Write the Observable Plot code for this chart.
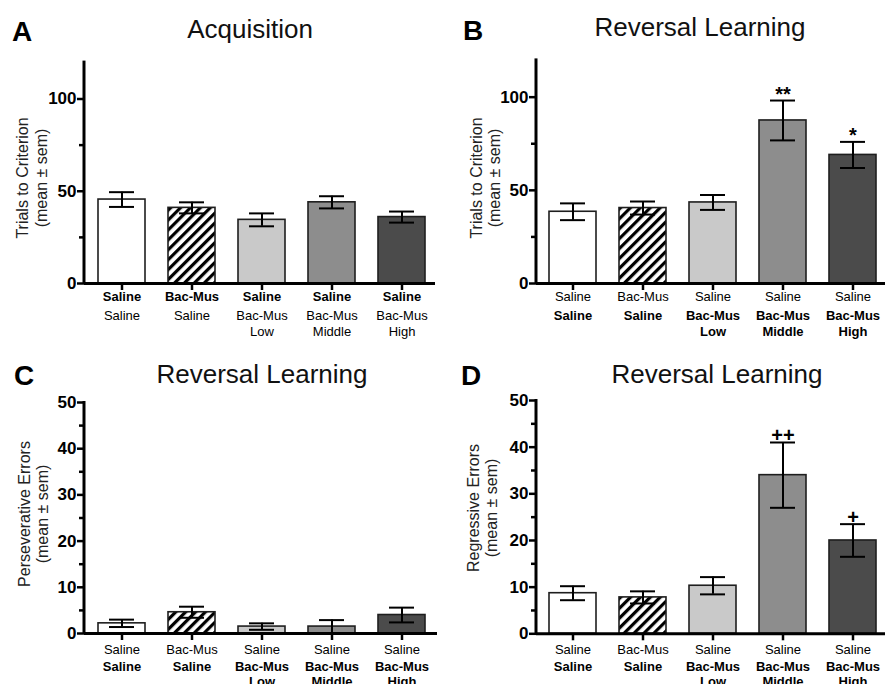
<!DOCTYPE html>
<html>
<head>
<meta charset="utf-8">
<script src="https://cdn.jsdelivr.net/npm/d3@7"></script>
<script src="https://cdn.jsdelivr.net/npm/@observablehq/plot@0.6"></script>
<style>
  body { margin: 0; background: #fff; }
  #fig { position: relative; width: 885px; height: 684px; overflow: hidden; background: #fff; }
  .panel { position: absolute; }
</style>
</head>
<body>
<div id="fig"></div>
<script>
// ---------- data ----------
const groups = ["Saline|Saline", "Bac-Mus|Saline", "Saline|Bac-Mus Low", "Saline|Bac-Mus Middle", "Saline|Bac-Mus High"];
const pretreatment = ["Saline", "Bac-Mus", "Saline", "Saline", "Saline"];
const treatment = ["Saline", "Saline", "Bac-Mus\nLow", "Bac-Mus\nMiddle", "Bac-Mus\nHigh"];

const acqTrialsMean = [45.5, 41.0, 34.5, 44.0, 36.0];
const acqTrialsSem  = [4.0, 3.0, 3.5, 3.3, 3.0];

const revTrialsMean = [38.5, 40.5, 43.5, 87.5, 69.0];
const revTrialsSem  = [4.5, 3.5, 4.0, 10.7, 7.0];
const revTrialsSig  = ["", "", "", "**", "*"];

const persErrMean = [2.2, 4.6, 1.5, 1.5, 4.0];
const persErrSem  = [0.8, 1.2, 0.7, 1.4, 1.6];

const regErrMean = [8.7, 7.8, 10.3, 34.0, 20.0];
const regErrSem  = [1.5, 1.3, 1.85, 7.0, 3.5];
const regErrSig  = ["", "", "", "++", "+"];

const trialsTicks = [0, 50, 100];
const trialsMinorTicks = [25, 75];
const errorTicks = [0, 10, 20, 30, 40, 50];
const errorMinorTicks = [5, 15, 25, 35, 45];

const panelLetters = ["A", "B", "C", "D"];
const panelTitles = ["Acquisition", "Reversal Learning", "Reversal Learning", "Reversal Learning"];
const yLabelLine1 = ["Trials to Criterion", "Trials to Criterion", "Perseverative Errors", "Regressive Errors"];
const yLabelLine2 = ["(mean \u00b1 sem)", "(mean \u00b1 sem)", "(mean \u00b1 sem)", "(mean \u00b1 sem)"];

// ---------- styling ----------
const FONT = '"Liberation Sans", Arial, Helvetica, sans-serif';
const barColors = ["#ffffff", "HATCH", "#c9c9c9", "#8d8d8d", "#4b4b4b"];

function makePanel(cfg) {
  const data = groups.map((g, i) => ({
    group: g,
    mean: cfg.mean[i],
    lo: cfg.mean[i] - cfg.sem[i],
    hi: cfg.mean[i] + cfg.sem[i],
    sig: cfg.sig ? cfg.sig[i] : "",
    line2: treatment[i]
  }));
  const hatchId = "hatch" + cfg.key;
  const defs = () => {
    const d = d3.create("svg:defs");
    const p = d.append("pattern")
      .attr("id", hatchId)
      .attr("patternUnits", "userSpaceOnUse")
      .attr("width", 7).attr("height", 7)
      .attr("patternTransform", "rotate(45)");
    p.append("rect").attr("width", 7).attr("height", 7).attr("fill", "#fff");
    p.append("line").attr("x1", 1.6).attr("y1", -1).attr("x2", 1.6).attr("y2", 8)
      .attr("stroke", "#000").attr("stroke-width", 3.2);
    return d.node();
  };
  const yAxisLine = (index, scales, values, dim) => {
    const g = d3.create("svg:g");
    g.append("line")
      .attr("x1", dim.marginLeft).attr("x2", dim.marginLeft)
      .attr("y1", dim.marginTop - 1).attr("y2", dim.height - dim.marginBottom)
      .attr("stroke", "#000").attr("stroke-width", 3);
    return g.node();
  };
  const chart = Plot.plot({
    width: cfg.width,
    height: cfg.height,
    marginLeft: cfg.marginLeft,
    marginRight: cfg.marginRight,
    marginTop: cfg.marginTop,
    marginBottom: cfg.marginBottom,
    style: {fontFamily: FONT, fontSize: "13px", color: "#000", background: "transparent", overflow: "visible"},
    x: {type: "band", domain: groups, range: cfg.xRange, paddingInner: 0.33, paddingOuter: 0, axis: null},
    y: {domain: cfg.yDomain, axis: null},
    color: {domain: groups, range: barColors.map(c => c === "HATCH" ? `url(#${hatchId})` : c)},
    marks: [
      defs,
      Plot.barY(data, {x: "group", y: "mean", fill: "group", stroke: "#1e1e1e", strokeWidth: 1.6}),
      Plot.ruleX(data, {x: "group", y1: "lo", y2: "hi", stroke: "#000", strokeWidth: 2}),
      Plot.tickY(data, {x: "group", y: "hi", stroke: "#000", strokeWidth: 2, insetLeft: 11, insetRight: 11}),
      Plot.tickY(data, {x: "group", y: "lo", stroke: "#000", strokeWidth: 2, insetLeft: 11, insetRight: 11}),
      Plot.text(data.filter(d => d.sig), {x: "group", y: "hi", text: "sig", lineAnchor: "bottom", dy: 0, fontSize: 20, fontWeight: "bold", fill: "#000"}),
      yAxisLine,
      Plot.ruleY([0], {stroke: "#000", strokeWidth: 3}),
      Plot.axisY({ticks: cfg.yMajor, tickSize: 7, tickPadding: 1, strokeWidth: 2.5, fontSize: 17, fontWeight: "bold", label: null, tickFormat: d => String(d)}),
      Plot.axisY({ticks: cfg.yMinor, tickSize: 5, tickPadding: 1, strokeWidth: 2.5, fontSize: 17, label: null, tickFormat: () => ""}),
      Plot.axisX({tickSize: 7, tickPadding: cfg.labelPad, strokeWidth: 2.5, fontSize: 13,
        fontWeight: cfg.line1Bold ? "bold" : "normal", label: null,
        tickFormat: d => pretreatment[groups.indexOf(d)]}),
      Plot.text(data, {x: "group", text: "line2", frameAnchor: "bottom", lineAnchor: "top",
        dy: 7 + cfg.labelPad + cfg.lineStep, lineHeight: cfg.lineStep / 13, fontSize: 13,
        fontWeight: cfg.line1Bold ? "normal" : "bold", fill: "#000"})
    ]
  });
  const div = document.createElement("div");
  div.className = "panel";
  div.style.left = cfg.left + "px";
  div.style.top = cfg.top + "px";
  div.appendChild(chart);
  document.getElementById("fig").appendChild(div);
}

makePanel({key: "A", left: 0, top: 0, width: 440, height: 340,
  marginLeft: 84, marginRight: 5, marginTop: 61.6, marginBottom: 57,
  xRange: [97, 426], yDomain: [0, 120], yMajor: trialsTicks, yMinor: trialsMinorTicks,
  mean: acqTrialsMean, sem: acqTrialsSem, line1Bold: true, labelPad: 1.7, lineStep: 16.2});

makePanel({key: "B", left: 440, top: 0, width: 445, height: 340,
  marginLeft: 96, marginRight: 0, marginTop: 59.4, marginBottom: 57,
  xRange: [108, 437], yDomain: [0, 120], yMajor: trialsTicks, yMinor: trialsMinorTicks,
  mean: revTrialsMean, sem: revTrialsSem, sig: revTrialsSig, line1Bold: false, labelPad: 1.7, lineStep: 16.2});

makePanel({key: "C", left: 0, top: 340, width: 440, height: 344,
  marginLeft: 84, marginRight: 3, marginTop: 62, marginBottom: 51,
  xRange: [97, 425], yDomain: [0, 50], yMajor: errorTicks, yMinor: errorMinorTicks,
  mean: persErrMean, sem: persErrSem, line1Bold: false, labelPad: 4, lineStep: 15.3});

makePanel({key: "D", left: 440, top: 340, width: 445, height: 344,
  marginLeft: 96, marginRight: 0, marginTop: 60, marginBottom: 50.7,
  xRange: [108, 437], yDomain: [0, 50], yMajor: errorTicks, yMinor: errorMinorTicks,
  mean: regErrMean, sem: regErrSem, sig: regErrSig, line1Bold: false, labelPad: 3.7, lineStep: 15.3});

// ---------- overlay: titles, panel letters, y labels ----------
const overlay = d3.select("#fig").append("svg")
  .attr("width", 885).attr("height", 684)
  .style("position", "absolute").style("left", "0px").style("top", "0px")
  .style("font-family", FONT).style("pointer-events", "none");

const titlePos = [[250, 38.3], [700, 36], [262, 383], [717, 383]];
const letterPos = [[12, 40.5], [463, 40], [14, 385], [461, 385]];
const ylabPos = [[28, 47, 178], [482, 500, 178], [30, 48, 514], [479, 497, 508]];

panelTitles.forEach((t, i) => {
  overlay.append("text").attr("x", titlePos[i][0]).attr("y", titlePos[i][1])
    .attr("text-anchor", "middle").attr("font-size", 26).attr("fill", "#111").text(t);
  overlay.append("text").attr("x", letterPos[i][0]).attr("y", letterPos[i][1])
    .attr("font-size", 28).attr("font-weight", "bold").attr("fill", "#000").text(panelLetters[i]);
  const g = overlay.append("g").attr("transform", `translate(${ylabPos[i][0]},${ylabPos[i][2]}) rotate(-90)`);
  g.append("text").attr("x", 0).attr("y", 0).attr("text-anchor", "middle").attr("font-size", 16).attr("fill", "#222").text(yLabelLine1[i]);
  g.append("text").attr("x", 0).attr("y", ylabPos[i][1] - ylabPos[i][0]).attr("text-anchor", "middle").attr("font-size", 16).attr("fill", "#222").text(yLabelLine2[i]);
});
</script>
</body>
</html>
